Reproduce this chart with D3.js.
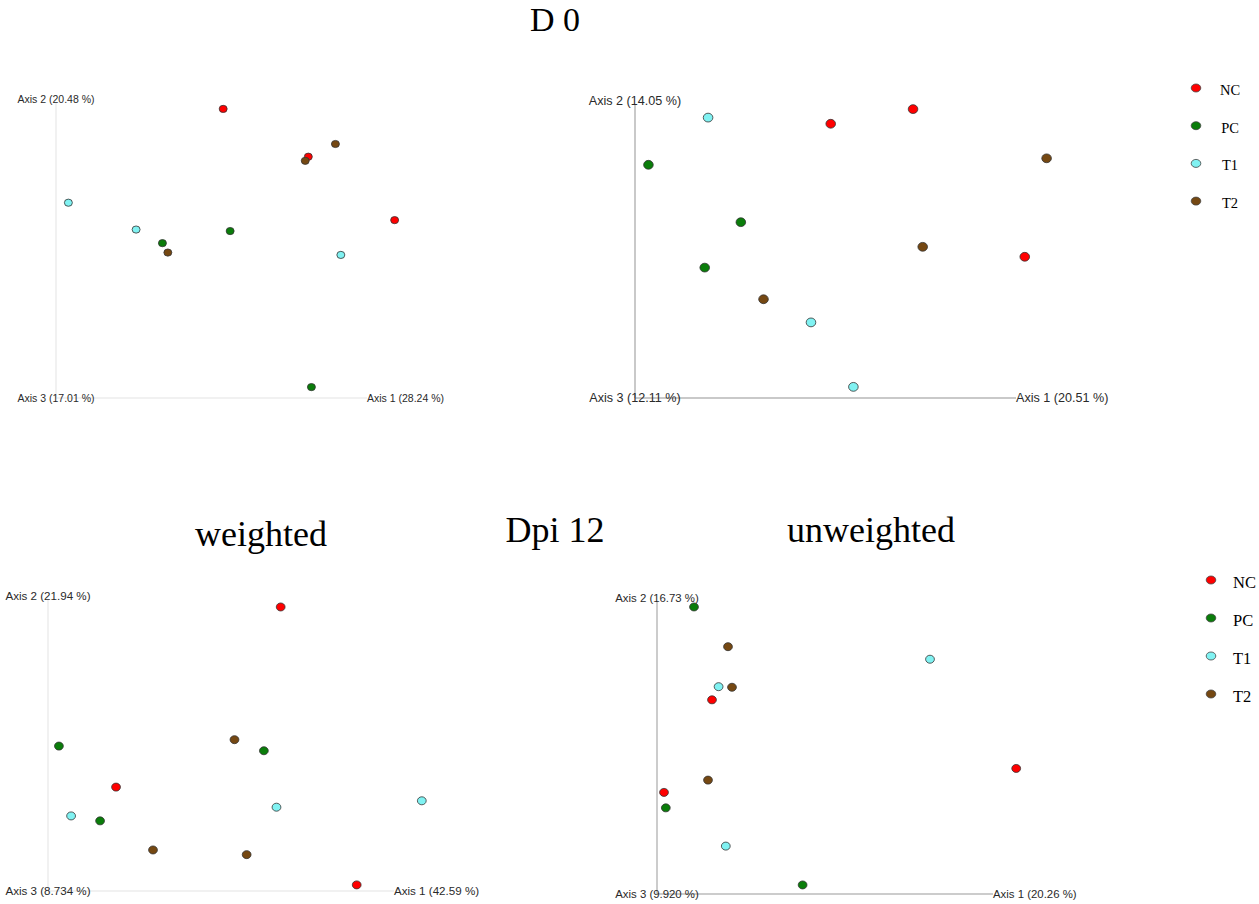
<!DOCTYPE html>
<html>
<head>
<meta charset="utf-8">
<script src="https://cdn.jsdelivr.net/npm/d3@7"></script>
<style>
  body { margin: 0; background: #fff; }
  svg { display: block; }
</style>
</head>
<body>
<div id="chart"></div>
<script>
// groups and colours
var groups = ["NC", "PC", "T1", "T2"];
var groupColors = ["#ff0000", "#0a7d0a", "#80f2f2", "#754812"];

// axis labels per panel (Axis 1, Axis 2, Axis 3)
var d0wAxes = ["Axis 1 (28.24 %)", "Axis 2 (20.48 %)", "Axis 3 (17.01 %)"];
var d0uAxes = ["Axis 1 (20.51 %)", "Axis 2 (14.05 %)", "Axis 3 (12.11 %)"];
var d12wAxes = ["Axis 1 (42.59 %)", "Axis 2 (21.94 %)", "Axis 3 (8.734 %)"];
var d12uAxes = ["Axis 1 (20.26 %)", "Axis 2 (16.73 %)", "Axis 3 (9.920 %)"];

// sample scores (relative units, 0-100 of each plot)
var d0wPts = [
  ["NC", 43.2, 98.0], ["NC", 65.2, 81.8], ["NC", 87.5, 60.3],
  ["PC", 45.0, 56.6], ["PC", 27.5, 52.5], ["PC", 66.0, 3.7],
  ["T1", 3.2, 66.2], ["T1", 20.7, 57.1], ["T1", 73.6, 48.5],
  ["T2", 72.2, 86.1], ["T2", 64.4, 80.4], ["T2", 28.9, 49.3]
];
var d0uPts = [
  ["NC", 66.2, 98.6], ["NC", 46.6, 93.6], ["NC", 92.8, 48.2],
  ["PC", 3.2, 79.6], ["PC", 25.2, 60.0], ["PC", 16.6, 44.5],
  ["T1", 17.4, 95.7], ["T1", 41.9, 25.8], ["T1", 52.0, 3.8],
  ["T2", 98.0, 81.8], ["T2", 68.5, 51.6], ["T2", 30.6, 33.7]
];
var d12wPts = [
  ["NC", 55.4, 97.6], ["NC", 16.2, 35.7], ["NC", 73.5, 2.1],
  ["PC", 2.6, 49.8], ["PC", 51.4, 48.2], ["PC", 12.4, 24.1],
  ["T1", 89.0, 31.0], ["T1", 54.4, 28.8], ["T1", 5.5, 25.8],
  ["T2", 44.4, 52.0], ["T2", 25.0, 14.1], ["T2", 47.3, 12.5]
];
var d12uPts = [
  ["NC", 13.75, 66.5], ["NC", 89.8, 43.0], ["NC", 1.75, 34.8],
  ["PC", 9.25, 98.3], ["PC", 2.2, 29.5], ["PC", 36.4, 3.1],
  ["T1", 68.25, 80.4], ["T1", 15.4, 71.0], ["T1", 17.2, 16.4],
  ["T2", 17.75, 84.7], ["T2", 18.75, 70.8], ["T2", 12.75, 39.0]
];

var width = 1259, height = 904;
var svg = d3.select('#chart').append('svg')
  .attr('width', width).attr('height', height);

var color = d3.scaleOrdinal().domain(groups).range(groupColors);

// layout of the four panels
var panels = [
  { pts: d0wPts, axes: d0wAxes, x0: 56, y0: 398, w: 387, h: 295, axW: 311, axH: 295, fs: 10.5,
    line: "#ececec", lw: 1.5, rx: 4, ry: 3.6 },
  { pts: d0uPts, axes: d0uAxes, x0: 635, y0: 398, w: 420, h: 293, axW: 381, axH: 293, fs: 12.6,
    line: "#c9c9c9", lw: 2, rx: 4.8, ry: 4.4 },
  { pts: d12wPts, axes: d12wAxes, x0: 48, y0: 891, w: 420, h: 291, axW: 346, axH: 291, fs: 11.6,
    line: "#ececec", lw: 1.5, rx: 4.4, ry: 4 },
  { pts: d12uPts, axes: d12uAxes, x0: 657, y0: 894, w: 400, h: 292, axW: 336, axH: 292, fs: 11.4,
    line: "#cccccc", lw: 2, rx: 4.4, ry: 4 }
];

panels.forEach(function (p) {
  var x = d3.scaleLinear().domain([0, 100]).range([p.x0, p.x0 + p.w]);
  var y = d3.scaleLinear().domain([0, 100]).range([p.y0, p.y0 - p.h]);
  var g = svg.append('g');

  g.append('line')
    .attr('x1', p.x0).attr('x2', p.x0)
    .attr('y1', p.y0).attr('y2', p.y0 - p.axH)
    .attr('stroke', p.line).attr('stroke-width', p.lw);
  g.append('line')
    .attr('x1', p.x0).attr('x2', p.x0 + p.axW)
    .attr('y1', p.y0).attr('y2', p.y0)
    .attr('stroke', p.line).attr('stroke-width', p.lw);

  var lab = function (txt, lx, ly, anchor) {
    g.append('text')
      .attr('x', lx).attr('y', ly)
      .attr('dy', '0.35em')
      .attr('text-anchor', anchor)
      .attr('font-family', 'Liberation Sans, Arial, sans-serif')
      .attr('font-size', p.fs)
      .attr('fill', '#2a2a2a')
      .text(txt);
  };
  lab(p.axes[1], p.x0, p.y0 - p.axH - 4, 'middle');
  lab(p.axes[2], p.x0, p.y0, 'middle');
  lab(p.axes[0], p.x0 + p.axW, p.y0, 'start');

  g.selectAll('ellipse')
    .data(p.pts)
    .enter()
    .append('ellipse')
    .attr('cx', function (d) { return x(d[1]); })
    .attr('cy', function (d) { return y(d[2]); })
    .attr('rx', p.rx).attr('ry', p.ry)
    .attr('fill', function (d) { return color(d[0]); })
    .attr('stroke', '#333').attr('stroke-width', 0.8);
});

// legends
var legends = [
  { x: 1196, y: 88, step: 37.7, tx: 1230, fs: 14.5, anchor: 'middle' },
  { x: 1211, y: 580, step: 38, tx: 1233, fs: 16.5, anchor: 'start' }
];
legends.forEach(function (l) {
  var ly = d3.scaleBand().domain(groups).range([l.y, l.y + l.step * 4]);
  var lg = svg.append('g');
  lg.selectAll('ellipse').data(groups).enter().append('ellipse')
    .attr('cx', l.x)
    .attr('cy', function (d) { return ly(d); })
    .attr('rx', 4.8).attr('ry', 4)
    .attr('fill', function (d) { return color(d); })
    .attr('stroke', '#444').attr('stroke-width', 0.8);
  lg.selectAll('text').data(groups).enter().append('text')
    .attr('x', l.tx)
    .attr('y', function (d) { return ly(d) + 2; })
    .attr('dy', '0.35em')
    .attr('text-anchor', l.anchor)
    .attr('font-family', 'Liberation Serif, Times New Roman, serif')
    .attr('font-size', l.fs)
    .text(function (d) { return d; });
});

// titles
var titles = [
  ["D 0", 555, 31, 34],
  ["weighted", 261, 546, 36],
  ["Dpi 12", 555, 542, 36],
  ["unweighted", 871, 542, 36]
];
svg.selectAll('.title').data(titles).enter().append('text')
  .attr('class', 'title')
  .attr('x', function (d) { return d[1]; })
  .attr('y', function (d) { return d[2]; })
  .attr('text-anchor', 'middle')
  .attr('font-family', 'Liberation Serif, Times New Roman, serif')
  .attr('font-size', function (d) { return d[3]; })
  .text(function (d) { return d[0]; });
</script>
</body>
</html>
